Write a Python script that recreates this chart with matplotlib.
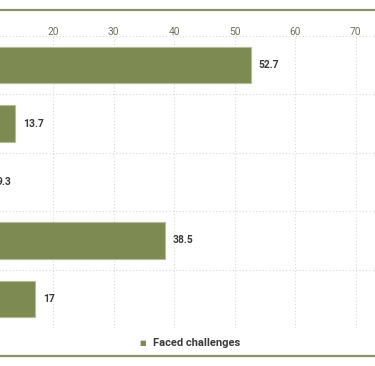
import matplotlib.pyplot as plt
from matplotlib.lines import Line2D

# Data (top to bottom)
values = [52.7, 13.7, 9.3, 38.5, 17]
series_name = "Faced challenges"
xticks = [0, 10, 20, 30, 40, 50, 60, 70]

BAR = "#7d8a52"
EDGE = "#b4bd96"
RULE = "#8c9270"
GRID = "#d9d9d9"

plt.rcParams["font.family"] = ["Roboto", "DejaVu Sans"]

W, H = 375, 366
fig = plt.figure(figsize=(W / 100, H / 100), dpi=100)

# the plot is cut at the left edge of the picture: axes starts off-canvas
x0, x1 = -67.9, 375.0
y0, y1 = 36.0, 328.0
ax = fig.add_axes([x0 / W, 1 - y1 / H, (x1 - x0) / W, (y1 - y0) / H])

pos = list(range(len(values)))
ax.barh(pos, values, height=0.62, color=BAR, edgecolor=EDGE, linewidth=0.8, zorder=3)
for p, v in zip(pos, values):
    ax.annotate(f"{v:g}", (v, p), xytext=(8, 0), textcoords="offset pixels",
                ha="left", va="center", fontsize=7.4, fontweight="bold",
                color="#3a3a3a")

ax.set_xlim(0, (x1 - x0) / 6.05)
ax.set_ylim(len(values) - 0.5, -0.5)
ax.set_xticks(xticks)
ax.xaxis.tick_top()
ax.tick_params(axis="x", length=0, pad=-0.8, labelsize=7.3, labelcolor="#6e6f60")
ax.set_yticks([y + 0.5 for y in pos[:-1]] + [-0.5, len(values) - 0.5])
ax.tick_params(axis="y", length=0, labelleft=False)
ax.grid(True, axis="both", color=GRID, linestyle=(0, (1, 2)), linewidth=0.8, zorder=0)
for s in ax.spines.values():
    s.set_visible(False)

# frame rules at the top and bottom of the figure
fig.add_artist(Line2D([0, 1], [1 - 9.5 / H] * 2, color=RULE, linewidth=1.6))
fig.add_artist(Line2D([0, 1], [1 - 356 / H] * 2, color=RULE, linewidth=1.6))

# legend
fig.text(143 / W, 1 - 343 / H, "\u25a0", color=BAR, fontsize=5, ha="center", va="center")
fig.text(153 / W, 1 - 342.5 / H, series_name, color="#3a3a3a", fontsize=8,
         fontweight="bold", ha="left", va="center")

fig.savefig("out.png", dpi=100)
